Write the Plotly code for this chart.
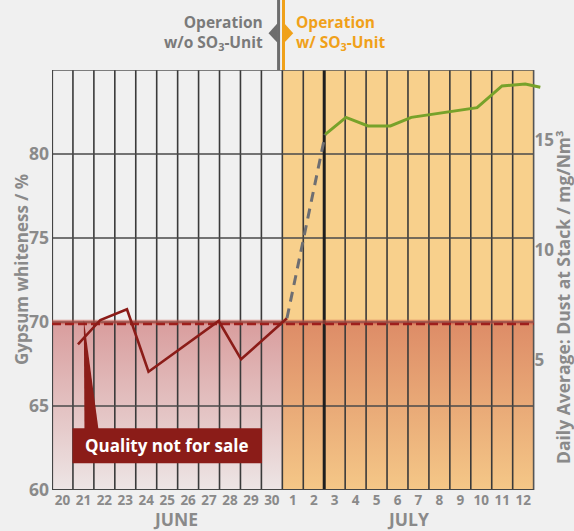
import plotly.graph_objects as go

# ---------------- data ----------------
days = ['20', '21', '22', '23', '24', '25', '26', '27', '28', '29', '30',
        '1', '2', '3', '4', '5', '6', '7', '8', '9', '10', '11', '12']
june_days = days[:11]
july_days = days[11:]
months = ['JUNE', 'JULY']

left_ticks = [60, 65, 70, 75, 80]
right_ticks = [5, 10, 15]

# gypsum whiteness (x = position in day columns, column i spans [i, i+1])
before_x = [1.24, 2.31, 3.58, 4.61, 7.96, 9.03, 11.22]
before_y = [68.67, 70.12, 70.76, 67.04, 70.06, 67.78, 70.22]
transition_x = [11.22, 13.05]
transition_y = [70.22, 81.17]
after_x = [13.05, 14.04, 15.09, 16.16, 17.16, 18.07, 19.02, 20.30, 21.49, 22.6, 23.32]
after_y = [81.17, 82.18, 81.67, 81.67, 82.18, 82.36, 82.54, 82.76, 84.05, 84.17, 83.97]
quality_limit = 70
quality_dashed = 69.88

# ---------------- styling ----------------
BG = '#f0f0f0'
ORANGE_BG = '#f8d08c'
GRAY_TXT = '#8a8a8a'
DARK_RED = '#8b1c18'
GREEN = '#77a22a'
GRID = '#3a3a3a'
FONT = 'Open Sans'

n = len(days)
y_min, y_max = 60, 85
x_max = 23.4
switch = len(june_days)
full_day = days.index('3')

fig = go.Figure()

# red "quality not for sale" band with vertical gradient
fig.add_trace(go.Scatter(
    x=[0, n, n, 0, 0], y=[y_min, y_min, quality_limit, quality_limit, y_min],
    mode='lines', fill='toself', line=dict(width=0),
    fillgradient=dict(type='vertical', start=y_min, stop=quality_limit,
                      colorscale=[[0, 'rgba(190,60,60,0.06)'], [1, 'rgba(190,60,60,0.46)']]),
    hoverinfo='skip', showlegend=False))

# vertical grid lines
gx, gy = [], []
for i in range(1, n):
    if i == full_day:
        continue
    gx += [i, i, None]
    gy += [y_min, y_max, None]
fig.add_trace(go.Scatter(x=gx, y=gy, mode='lines', line=dict(color=GRID, width=1.6),
                         hoverinfo='skip', showlegend=False))
# horizontal grid lines
hx, hy = [], []
for t in left_ticks[1:]:
    hx += [0, n, None]
    hy += [t, t, None]
fig.add_trace(go.Scatter(x=hx, y=hy, mode='lines', line=dict(color='#4a4a4a', width=1.6),
                         hoverinfo='skip', showlegend=False))
# thick line at full SO3 operation
fig.add_trace(go.Scatter(x=[full_day, full_day], y=[y_min, y_max], mode='lines',
                         line=dict(color='#1e1e1e', width=3), hoverinfo='skip', showlegend=False))
# frame
fig.add_trace(go.Scatter(x=[0, n, n, 0, 0], y=[y_min, y_min, y_max, y_max, y_min], mode='lines',
                         line=dict(color='#555555', width=1.6), hoverinfo='skip', showlegend=False))
fig.add_trace(go.Scatter(x=[0, 0, n], y=[y_max, y_min, y_min], mode='lines',
                         line=dict(color='#444444', width=2.2), hoverinfo='skip', showlegend=False))

# quality limit band and dashed line
fig.add_trace(go.Scatter(x=[0, n], y=[quality_limit, quality_limit], mode='lines',
                         line=dict(color='rgba(200,80,70,0.55)', width=4.5),
                         hoverinfo='skip', showlegend=False))
fig.add_trace(go.Scatter(x=[0, n], y=[quality_dashed, quality_dashed], mode='lines',
                         line=dict(color='#9e1f1c', width=2.5, dash='9px,4px'),
                         hoverinfo='skip', showlegend=False))

# data lines
fig.add_trace(go.Scatter(x=before_x, y=before_y, mode='lines',
                         line=dict(color=DARK_RED, width=2.6), hoverinfo='skip', showlegend=False))
fig.add_trace(go.Scatter(x=transition_x, y=transition_y, mode='lines',
                         line=dict(color='#6e6e72', width=3, dash='10px,7px'),
                         hoverinfo='skip', showlegend=False))
fig.add_trace(go.Scatter(x=after_x, y=after_y, mode='lines',
                         line=dict(color=GREEN, width=3), hoverinfo='skip', showlegend=False))

# invisible trace for right axis
fig.add_trace(go.Scatter(x=[0], y=[right_ticks[0]], yaxis='y2', mode='markers',
                         marker=dict(opacity=0), hoverinfo='skip', showlegend=False))

shapes = []
# orange July region
shapes.append(dict(type='rect', xref='x', yref='y', x0=switch, x1=n, y0=y_min, y1=y_max,
                   fillcolor=ORANGE_BG, line=dict(width=0), layer='below'))
# callout box + wedge
shapes.append(dict(type='rect', xref='x', yref='y', x0=0.98, x1=10.03, y0=61.59, y1=63.67,
                   fillcolor=DARK_RED, line=dict(width=0), layer='above'))
shapes.append(dict(type='path', xref='x', yref='y',
                   path='M 1.52 70.12 L 1.55 63.6 L 2.22 63.6 Z',
                   fillcolor=DARK_RED, line=dict(width=0), layer='above'))
# header divider lines and arrows
top = 1 + 70 / 420
shapes.append(dict(type='line', xref='x', yref='paper', x0=10.82, x1=10.82, y0=1, y1=top,
                   line=dict(color='#6d6d6d', width=3)))
shapes.append(dict(type='line', xref='x', yref='paper', x0=11.055, x1=11.055, y0=1, y1=top,
                   line=dict(color='#f0a11a', width=3)))
shapes.append(dict(type='path', xref='x', yref='paper',
                   path='M 10.34 1.0874 L 10.78 1.1119 L 10.78 1.0643 Z',
                   fillcolor='#6d6d6d', line=dict(width=0)))
shapes.append(dict(type='path', xref='x', yref='paper',
                   path='M 11.52 1.0874 L 11.08 1.1119 L 11.08 1.0643 Z',
                   fillcolor='#f0a11a', line=dict(width=0)))

annotations = [
    dict(text='Operation<br>w/o SO<sub>3</sub>-Unit', xref='x', yref='paper', x=10.19, y=1.0893,
         xanchor='right', yanchor='middle', align='right', showarrow=False,
         font=dict(family=FONT, size=15.5, color='#7a7a7a', weight='bold')),
    dict(text='Operation<br>w/ SO<sub>3</sub>-Unit', xref='x', yref='paper', x=11.57, y=1.0893,
         xanchor='left', yanchor='middle', align='left', showarrow=False,
         font=dict(family=FONT, size=15.5, color='#f0a11a', weight='bold')),
    dict(text='Quality not for sale', xref='x', yref='y', x=5.51, y=62.63,
         xanchor='center', yanchor='middle', showarrow=False,
         font=dict(family=FONT, size=17, color='white', weight='bold')),
    dict(text=months[0], xref='x', yref='paper', x=5.89, y=-0.069,
         xanchor='center', yanchor='middle', showarrow=False,
         font=dict(family=FONT, size=17.5, color=GRAY_TXT, weight='bold')),
    dict(text=months[1], xref='x', yref='paper', x=switch + len(july_days) / 2, y=-0.069,
         xanchor='center', yanchor='middle', showarrow=False,
         font=dict(family=FONT, size=17.5, color=GRAY_TXT, weight='bold')),
    dict(text='Gypsum whiteness / %', xref='paper', yref='paper', x=-31 / 490, y=(490 - 270) / 420,
         xanchor='center', yanchor='middle', textangle=-90, showarrow=False,
         font=dict(family=FONT, size=17, color=GRAY_TXT, weight='bold')),
    dict(text='Daily Average: Dust at Stack / mg/Nm³', xref='paper', yref='paper',
         x=(563 - 52) / 490, y=(490 - 297) / 420,
         xanchor='center', yanchor='middle', textangle=-90, showarrow=False,
         font=dict(family=FONT, size=17.5, color=GRAY_TXT, weight='bold')),
]

fig.update_layout(
    width=574, height=531,
    margin=dict(l=52, r=32, t=70, b=41),
    paper_bgcolor=BG, plot_bgcolor=BG,
    showlegend=False,
    shapes=shapes, annotations=annotations,
    xaxis=dict(range=[0, x_max], tickvals=[i + 0.5 for i in range(n)], ticktext=days,
               showgrid=False, zeroline=False, showline=False, ticks='',
               tickfont=dict(family=FONT, size=13.5, color=GRAY_TXT, weight='bold'),
               fixedrange=True),
    yaxis=dict(range=[y_min, y_max], tickvals=left_ticks, showgrid=False, zeroline=False,
               showline=False, ticks='', ticklabelstandoff=2,
               tickfont=dict(family=FONT, size=17.5, color=GRAY_TXT, weight='bold'),
               fixedrange=True),
    yaxis2=dict(range=[-0.9, 18.2], tickvals=right_ticks, overlaying='y', anchor='free',
                position=n / x_max, side='right', showgrid=False, zeroline=False,
                showline=False, ticks='', ticklabelstandoff=0,
                tickfont=dict(family=FONT, size=17, color=GRAY_TXT, weight='bold'),
                fixedrange=True),
)

fig.write_html('out.html', config={'displayModeBar': False},
               post_script="document.body.style.margin='0';document.body.style.overflow='hidden';")
